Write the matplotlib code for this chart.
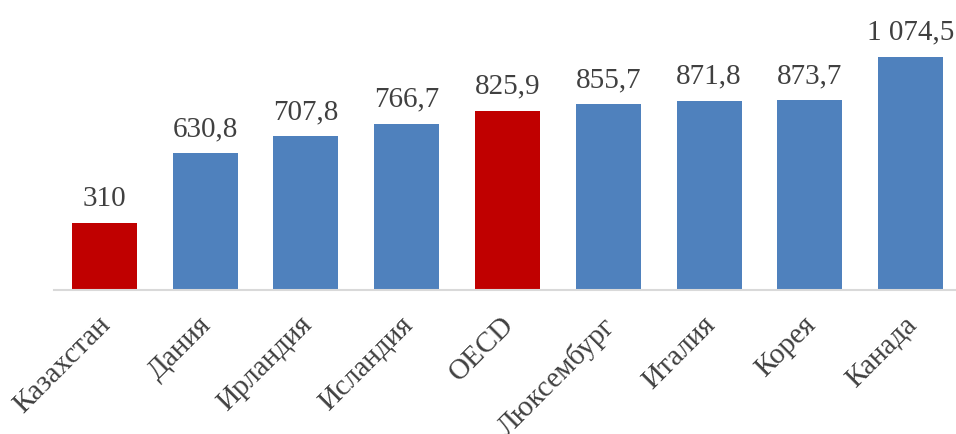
import matplotlib.pyplot as plt
import matplotlib.transforms as mtransforms

countries = ['Казахстан', 'Дания', 'Ирландия', 'Исландия', 'OECD',
             'Люксембург', 'Италия', 'Корея', 'Канада']
values = [310, 630.8, 707.8, 766.7, 825.9, 855.7, 871.8, 873.7, 1074.5]
value_labels = ['310', '630,8', '707,8', '766,7', '825,9',
                '855,7', '871,8', '873,7', '1 074,5']
highlight = ['Казахстан', 'OECD']

blue = '#4F81BD'
red = '#C00000'
text_col = '#404040'

plt.rcParams['font.family'] = ['Liberation Serif', 'DejaVu Serif']

fig = plt.figure(figsize=(9.56, 4.34), dpi=100)
scale = 0.217  # px per unit
ymax = 1200
h_px = ymax * scale
ax = fig.add_axes([54 / 956, 144 / 434, 907 / 956, h_px / 434])

colors = [red if c in highlight else blue for c in countries]
x = list(range(len(countries)))
ax.bar(x, values, width=0.645, color=colors, zorder=2)
ax.set_xlim(-0.5, len(countries) - 0.5)
ax.set_ylim(0, ymax)

for xi, v, lab in zip(x, values, value_labels):
    ax.annotate(lab, (xi, v), xytext=(0, 8), textcoords='offset points',
                ha='center', va='bottom', fontsize=21, color=text_col)

ax.set_xticks(x)
ax.set_xticklabels([])
offset = mtransforms.ScaledTranslation(-7 / 100, -22 / 100, fig.dpi_scale_trans)
for xi, c in zip(x, countries):
    ax.text(xi, 0, c, rotation=45, rotation_mode='anchor', ha='right', va='top',
            fontsize=21, color=text_col,
            transform=ax.transData + offset, clip_on=False)

ax.tick_params(length=0, left=False, labelleft=False)
for s in ['top', 'right', 'left']:
    ax.spines[s].set_visible(False)
ax.spines['bottom'].set_color('#D9D9D9')
ax.spines['bottom'].set_linewidth(1.5)
ax.spines['bottom'].set_zorder(3)

fig.savefig('out.png', dpi=100)
